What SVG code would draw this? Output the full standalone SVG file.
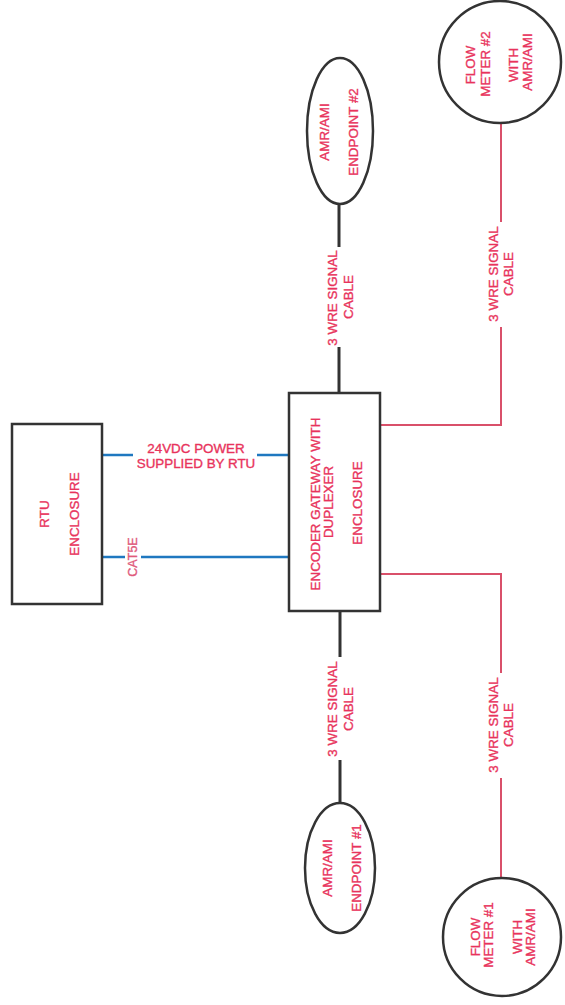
<svg xmlns="http://www.w3.org/2000/svg" width="565" height="1005" viewBox="0 0 565 1005">
<style>
.box{fill:#fff;stroke:#333;stroke-width:2.5}
.t{font-family:"Liberation Sans",Arial,sans-serif;font-size:13.4px;fill:#e8335c;stroke:#e8335c;stroke-width:0.35;text-anchor:middle}
.blk{stroke:#333;stroke-width:3;fill:none}
.red{stroke:#d9506a;stroke-width:2;fill:none}
.blu{stroke:#1f78c0;stroke-width:2.5;fill:none}
</style>
<rect width="565" height="1005" fill="#fff"/>
<g id="connectors">
<line class="blk" x1="339" y1="204" x2="339" y2="247"/>
<line class="blk" x1="339" y1="347" x2="339" y2="393"/>
<line class="blk" x1="340" y1="611" x2="340" y2="657"/>
<line class="blk" x1="340" y1="760" x2="340" y2="803"/>
<polyline class="red" points="380,425 501,425 501,327"/>
<line class="red" x1="501" y1="222" x2="501" y2="123"/>
<polyline class="red" points="380,574 501,574 501,673"/>
<line class="red" x1="501" y1="778" x2="501" y2="878"/>
<line class="blu" x1="102" y1="455" x2="133" y2="455"/>
<line class="blu" x1="257" y1="455" x2="289" y2="455"/>
<line class="blu" x1="102" y1="557" x2="125" y2="557"/>
<line class="blu" x1="141" y1="557" x2="289" y2="557"/>
<text class="t" x="196" y="453">24VDC POWER</text>
<text class="t" x="196" y="468">SUPPLIED BY RTU</text>
<text class="t" style="font-size:12.5px;fill:#e05a7c;stroke:#e05a7c" transform="translate(137,557) rotate(-90)">CAT5E</text>
<text class="t" transform="translate(337,298) rotate(-90)">3 WRE SIGNAL</text>
<text class="t" transform="translate(353,297) rotate(-90)">CABLE</text>
<text class="t" transform="translate(498,274) rotate(-90)">3 WRE SIGNAL</text>
<text class="t" transform="translate(513,274) rotate(-90)">CABLE</text>
<text class="t" transform="translate(337,709) rotate(-90)">3 WRE SIGNAL</text>
<text class="t" transform="translate(353,709) rotate(-90)">CABLE</text>
<text class="t" transform="translate(498,725) rotate(-90)">3 WRE SIGNAL</text>
<text class="t" transform="translate(513,725) rotate(-90)">CABLE</text>
</g>
<g id="rtu">
<rect class="box" x="12" y="424" width="90" height="180"/>
<text class="t" transform="translate(49,514) rotate(-90)">RTU</text>
<text class="t" transform="translate(79,514) rotate(-90)">ENCLOSURE</text>
</g>
<g id="gateway">
<rect class="box" x="289" y="393" width="91" height="218"/>
<text class="t" transform="translate(320,504) rotate(-90)">ENCODER GATEWAY WITH</text>
<text class="t" transform="translate(333,502) rotate(-90)">DUPLEXER</text>
<text class="t" transform="translate(362,503) rotate(-90)">ENCLOSURE</text>
</g>
<g id="endpoint2">
<ellipse class="box" cx="340" cy="131" rx="33" ry="73"/>
<text class="t" transform="translate(329,132) rotate(-90)">AMR/AMI</text>
<text class="t" transform="translate(358,132) rotate(-90)">ENDPOINT #2</text>
</g>
<g id="endpoint1">
<ellipse class="box" cx="340" cy="868" rx="35" ry="65"/>
<text class="t" transform="translate(332,868) rotate(-90)">AMR/AMI</text>
<text class="t" transform="translate(361,868) rotate(-90)">ENDPOINT #1</text>
</g>
<g id="flowmeter2">
<circle class="box" cx="500" cy="62" r="61"/>
<text class="t" transform="translate(475,65) rotate(-90)">FLOW</text>
<text class="t" transform="translate(490,64) rotate(-90)">METER #2</text>
<text class="t" transform="translate(518,65) rotate(-90)">WITH</text>
<text class="t" transform="translate(532,62) rotate(-90)">AMR/AMI</text>
</g>
<g id="flowmeter1">
<circle class="box" cx="502" cy="937" r="59"/>
<text class="t" transform="translate(480,937) rotate(-90)">FLOW</text>
<text class="t" transform="translate(493,935) rotate(-90)">METER #1</text>
<text class="t" transform="translate(522,937) rotate(-90)">WITH</text>
<text class="t" transform="translate(535,937) rotate(-90)">AMR/AMI</text>
</g>
</svg>
